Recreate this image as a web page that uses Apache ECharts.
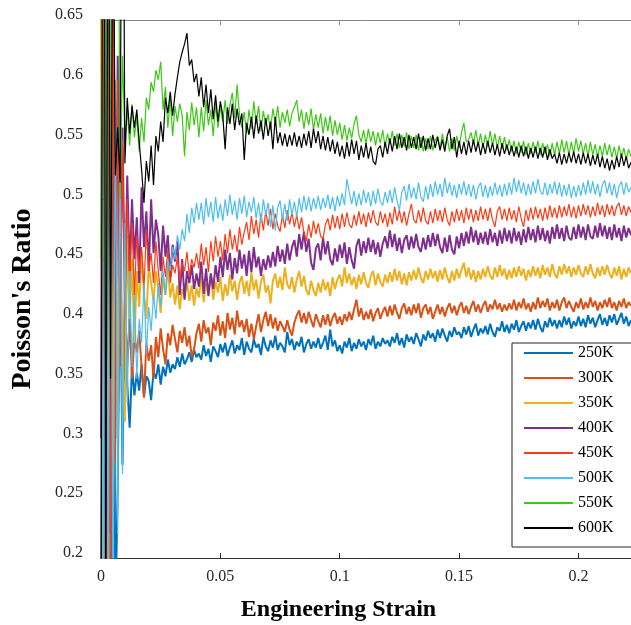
<!DOCTYPE html>
<html>
<head>
<meta charset="utf-8">
<script src="https://cdn.jsdelivr.net/npm/echarts@6/dist/echarts.min.js"></script>
<style>
  html, body { margin: 0; padding: 0; background: #fff; }
  #chart { width: 631px; height: 625px; }
</style>
</head>
<body>
<div id="chart"></div>
<script>
// Poisson's ratio vs. engineering strain at several temperatures.
// Samples are taken every 0.001 strain, starting at 0.
const strainStep = 0.001;

const temperatures = ['250K', '300K', '350K', '400K', '450K', '500K', '550K', '600K'];

const nu250 = [
  0.05, 0.95, 0.00, 0.80, 0.10, 0.70, 0.15, 0.259, 0.45, 0.278, 0.40,
  0.345, 0.309, 0.360, 0.336, 0.355, 0.340, 0.362, 0.335, 0.352, 0.348,
  0.332, 0.356, 0.350, 0.362, 0.345, 0.360, 0.352, 0.366, 0.355, 0.362,
  0.358, 0.368, 0.360, 0.371, 0.362, 0.366, 0.372, 0.364, 0.374, 0.368,
  0.371, 0.366, 0.378, 0.369, 0.375, 0.364, 0.377, 0.373, 0.368, 0.379,
  0.372, 0.380, 0.369, 0.376, 0.382, 0.371, 0.378, 0.374, 0.384, 0.370,
  0.381, 0.375, 0.372, 0.383, 0.376, 0.379, 0.370, 0.385, 0.377, 0.373,
  0.382, 0.376, 0.386, 0.374, 0.380, 0.377, 0.372, 0.389, 0.378, 0.383,
  0.374, 0.381, 0.377, 0.385, 0.372, 0.379, 0.383, 0.375, 0.381, 0.376,
  0.384, 0.375, 0.380, 0.386, 0.374, 0.391, 0.377, 0.382, 0.373, 0.378,
  0.371, 0.381, 0.376, 0.384, 0.373, 0.380, 0.375, 0.383, 0.377, 0.381,
  0.374, 0.383, 0.378, 0.386, 0.375, 0.381, 0.377, 0.384, 0.379, 0.382,
  0.377, 0.385, 0.380, 0.388, 0.378, 0.384, 0.376, 0.387, 0.381, 0.385,
  0.379, 0.388, 0.383, 0.377, 0.387, 0.382, 0.390, 0.384, 0.388, 0.381,
  0.391, 0.384, 0.392, 0.386, 0.381, 0.390, 0.385, 0.393, 0.387, 0.389,
  0.384, 0.393, 0.387, 0.394, 0.385, 0.391, 0.396, 0.386, 0.392, 0.388,
  0.394, 0.387, 0.396, 0.389, 0.385, 0.393, 0.390, 0.398, 0.389, 0.395,
  0.388, 0.396, 0.391, 0.399, 0.389, 0.394, 0.398, 0.390, 0.397, 0.392,
  0.399, 0.391, 0.400, 0.393, 0.389, 0.398, 0.393, 0.401, 0.394, 0.399,
  0.392, 0.399, 0.393, 0.402, 0.395, 0.401, 0.392, 0.398, 0.394, 0.402,
  0.394, 0.400, 0.393, 0.403, 0.396, 0.401, 0.393, 0.399, 0.404, 0.395,
  0.401, 0.394, 0.403, 0.397, 0.404, 0.395, 0.400, 0.405, 0.396, 0.402, 0.394, 0.399
];

const nu300 = [
  0.90, 0.10, 0.75, 0.05, 0.60, 0.20, 0.55, 0.30, 0.48, 0.33, 0.42,
  0.360, 0.400, 0.350, 0.385, 0.372, 0.390, 0.360, 0.334, 0.380, 0.365,
  0.378, 0.350, 0.385, 0.368, 0.392, 0.375, 0.362, 0.388, 0.378, 0.395,
  0.383, 0.372, 0.390, 0.380, 0.393, 0.377, 0.386, 0.368, 0.375, 0.388,
  0.396, 0.381, 0.399, 0.388, 0.393, 0.378, 0.397, 0.390, 0.403, 0.386,
  0.398, 0.384, 0.405, 0.391, 0.401, 0.387, 0.407, 0.393, 0.399, 0.389,
  0.400, 0.385, 0.396, 0.383, 0.394, 0.404, 0.389, 0.399, 0.406, 0.394,
  0.404, 0.392, 0.401, 0.390, 0.398, 0.394, 0.389, 0.399, 0.391, 0.386,
  0.397, 0.403, 0.407, 0.397, 0.405, 0.396, 0.406, 0.399, 0.393, 0.404,
  0.398, 0.393, 0.403, 0.395, 0.404, 0.394, 0.401, 0.405, 0.396, 0.402,
  0.395, 0.404, 0.398, 0.406, 0.399, 0.408, 0.416, 0.402, 0.409, 0.399,
  0.406, 0.400, 0.408, 0.398, 0.405, 0.409, 0.400, 0.406, 0.410, 0.402,
  0.411, 0.403, 0.412, 0.405, 0.400, 0.409, 0.413, 0.404, 0.410, 0.403,
  0.412, 0.405, 0.413, 0.401, 0.409, 0.412, 0.404, 0.410, 0.400, 0.406,
  0.412, 0.404, 0.410, 0.402, 0.409, 0.413, 0.405, 0.411, 0.403, 0.410,
  0.414, 0.405, 0.411, 0.404, 0.410, 0.415, 0.406, 0.412, 0.405, 0.411,
  0.415, 0.406, 0.412, 0.408, 0.416, 0.408, 0.413, 0.406, 0.412, 0.407,
  0.413, 0.408, 0.416, 0.407, 0.414, 0.409, 0.417, 0.408, 0.413, 0.406,
  0.414, 0.408, 0.418, 0.409, 0.415, 0.410, 0.417, 0.407, 0.414, 0.409,
  0.416, 0.407, 0.414, 0.418, 0.409, 0.415, 0.410, 0.406, 0.414, 0.409,
  0.417, 0.408, 0.414, 0.409, 0.418, 0.410, 0.415, 0.407, 0.414, 0.409,
  0.416, 0.410, 0.418, 0.409, 0.414, 0.407, 0.415, 0.410, 0.417, 0.409, 0.414, 0.411
];

const nu350 = [
  0.70, 0.02, 0.85, 0.12, 0.66, 0.25, 0.58, 0.30, 0.52, 0.36, 0.314,
  0.470, 0.400, 0.450, 0.380, 0.440, 0.410, 0.455, 0.420, 0.400, 0.445,
  0.430, 0.415, 0.440, 0.425, 0.405, 0.435, 0.420, 0.443, 0.418, 0.430,
  0.412, 0.428, 0.408, 0.425, 0.418, 0.432, 0.415, 0.428, 0.411, 0.426,
  0.418, 0.436, 0.414, 0.430, 0.420, 0.438, 0.416, 0.431, 0.422, 0.435,
  0.415, 0.429, 0.419, 0.437, 0.423, 0.432, 0.416, 0.430, 0.436, 0.421,
  0.432, 0.419, 0.439, 0.424, 0.433, 0.417, 0.431, 0.437, 0.422, 0.428,
  0.413, 0.432, 0.438, 0.426, 0.435, 0.424, 0.443, 0.429, 0.425, 0.435,
  0.422, 0.433, 0.440, 0.427, 0.436, 0.424, 0.420, 0.432, 0.424, 0.419,
  0.430, 0.422, 0.433, 0.424, 0.431, 0.419, 0.435, 0.425, 0.433, 0.437,
  0.427, 0.443, 0.430, 0.438, 0.428, 0.435, 0.425, 0.437, 0.429, 0.439,
  0.430, 0.426, 0.436, 0.440, 0.428, 0.438, 0.431, 0.427, 0.437, 0.430,
  0.439, 0.431, 0.442, 0.432, 0.440, 0.429, 0.438, 0.428, 0.439, 0.432,
  0.441, 0.433, 0.443, 0.434, 0.430, 0.440, 0.433, 0.442, 0.434, 0.440,
  0.431, 0.441, 0.433, 0.443, 0.435, 0.430, 0.440, 0.432, 0.442, 0.434,
  0.441, 0.447, 0.435, 0.443, 0.433, 0.441, 0.431, 0.440, 0.433, 0.442,
  0.435, 0.444, 0.436, 0.433, 0.443, 0.435, 0.445, 0.436, 0.442, 0.433,
  0.441, 0.434, 0.443, 0.435, 0.444, 0.436, 0.442, 0.432, 0.441, 0.435,
  0.444, 0.436, 0.443, 0.434, 0.445, 0.437, 0.443, 0.435, 0.446, 0.438,
  0.434, 0.444, 0.437, 0.446, 0.438, 0.444, 0.435, 0.443, 0.437, 0.445,
  0.438, 0.435, 0.444, 0.437, 0.446, 0.438, 0.434, 0.443, 0.436, 0.444,
  0.437, 0.445, 0.438, 0.434, 0.443, 0.436, 0.444, 0.433, 0.442, 0.435, 0.443, 0.438
];

const nu400 = [
  0.30, 0.95, 0.05, 0.85, 0.22, 0.78, 0.35, 0.62, 0.40, 0.56, 0.42,
  0.520, 0.440, 0.500, 0.450, 0.485, 0.430, 0.510, 0.460, 0.490, 0.440,
  0.500, 0.455, 0.483, 0.470, 0.440, 0.478, 0.452, 0.470, 0.435, 0.462,
  0.448, 0.465, 0.420, 0.450, 0.416, 0.440, 0.430, 0.445, 0.425, 0.438,
  0.427, 0.448, 0.421, 0.442, 0.419, 0.438, 0.425, 0.445, 0.431, 0.452,
  0.435, 0.458, 0.441, 0.455, 0.433, 0.451, 0.438, 0.458, 0.442, 0.454,
  0.436, 0.457, 0.439, 0.460, 0.443, 0.452, 0.436, 0.450, 0.441, 0.453,
  0.443, 0.456, 0.444, 0.461, 0.448, 0.458, 0.446, 0.463, 0.449, 0.460,
  0.466, 0.452, 0.471, 0.458, 0.473, 0.456, 0.467, 0.447, 0.441, 0.459,
  0.463, 0.449, 0.468, 0.454, 0.465, 0.450, 0.445, 0.459, 0.448, 0.462,
  0.451, 0.464, 0.446, 0.460, 0.449, 0.442, 0.461, 0.467, 0.453, 0.465,
  0.455, 0.468, 0.456, 0.466, 0.454, 0.464, 0.452, 0.463, 0.469, 0.459,
  0.474, 0.460, 0.471, 0.457, 0.468, 0.455, 0.466, 0.470, 0.458, 0.469,
  0.459, 0.471, 0.460, 0.456, 0.468, 0.458, 0.470, 0.460, 0.472, 0.461,
  0.471, 0.460, 0.455, 0.468, 0.456, 0.470, 0.458, 0.454, 0.469, 0.459,
  0.472, 0.461, 0.473, 0.463, 0.477, 0.464, 0.474, 0.462, 0.472, 0.463,
  0.473, 0.462, 0.475, 0.464, 0.472, 0.461, 0.474, 0.463, 0.476, 0.465,
  0.474, 0.463, 0.476, 0.465, 0.473, 0.462, 0.475, 0.464, 0.477, 0.466,
  0.475, 0.464, 0.478, 0.466, 0.476, 0.465, 0.474, 0.463, 0.477, 0.467,
  0.479, 0.467, 0.476, 0.465, 0.478, 0.468, 0.466, 0.477, 0.467, 0.479,
  0.468, 0.477, 0.466, 0.479, 0.469, 0.467, 0.478, 0.468, 0.480, 0.469,
  0.478, 0.467, 0.477, 0.466, 0.479, 0.468, 0.476, 0.465, 0.478, 0.468, 0.476, 0.470
];

const nu450 = [
  0.05, 0.90, 0.10, 0.75, 0.15, 0.70, 0.28, 0.60, 0.36, 0.55, 0.40,
  0.500, 0.430, 0.480, 0.420, 0.470, 0.440, 0.460, 0.425, 0.475, 0.440,
  0.455, 0.430, 0.465, 0.440, 0.420, 0.452, 0.435, 0.458, 0.430, 0.445,
  0.438, 0.452, 0.432, 0.447, 0.440, 0.456, 0.436, 0.450, 0.443, 0.455,
  0.442, 0.463, 0.445, 0.460, 0.439, 0.465, 0.448, 0.469, 0.452, 0.465,
  0.449, 0.471, 0.455, 0.475, 0.458, 0.470, 0.456, 0.477, 0.462, 0.473,
  0.481, 0.466, 0.486, 0.471, 0.483, 0.468, 0.488, 0.474, 0.490, 0.478,
  0.492, 0.475, 0.488, 0.478, 0.473, 0.487, 0.476, 0.491, 0.479, 0.489,
  0.477, 0.487, 0.475, 0.485, 0.472, 0.465, 0.479, 0.468, 0.482, 0.471,
  0.480, 0.469, 0.467, 0.479, 0.484, 0.474, 0.487, 0.476, 0.486, 0.475,
  0.488, 0.477, 0.489, 0.479, 0.476, 0.487, 0.478, 0.490, 0.479, 0.488,
  0.477, 0.489, 0.480, 0.491, 0.481, 0.478, 0.490, 0.480, 0.488, 0.477,
  0.489, 0.479, 0.494, 0.482, 0.491, 0.480, 0.490, 0.478, 0.488, 0.496,
  0.483, 0.480, 0.491, 0.481, 0.493, 0.482, 0.479, 0.490, 0.480, 0.492,
  0.482, 0.491, 0.481, 0.493, 0.483, 0.478, 0.490, 0.481, 0.492, 0.482,
  0.491, 0.480, 0.493, 0.483, 0.492, 0.481, 0.491, 0.482, 0.494, 0.483,
  0.492, 0.482, 0.493, 0.483, 0.477, 0.490, 0.494, 0.483, 0.492, 0.482,
  0.493, 0.483, 0.491, 0.481, 0.494, 0.484, 0.477, 0.491, 0.482, 0.493,
  0.483, 0.494, 0.484, 0.492, 0.482, 0.493, 0.483, 0.495, 0.485, 0.493,
  0.484, 0.495, 0.485, 0.494, 0.486, 0.496, 0.485, 0.494, 0.484, 0.495,
  0.486, 0.496, 0.487, 0.495, 0.485, 0.494, 0.486, 0.497, 0.487, 0.495,
  0.485, 0.496, 0.487, 0.495, 0.486, 0.494, 0.497, 0.487, 0.495, 0.486, 0.494, 0.489
];

const nu500 = [
  0.95, 0.05, 0.80, 0.12, 0.72, 0.10, 0.60, 0.22, 0.55, 0.27, 0.48,
  0.330, 0.440, 0.360, 0.420, 0.350, 0.400, 0.380, 0.430, 0.370, 0.410,
  0.390, 0.420, 0.400, 0.430, 0.410, 0.440, 0.420, 0.450, 0.440, 0.460,
  0.450, 0.470, 0.458, 0.475, 0.465, 0.488, 0.472, 0.493, 0.480, 0.497,
  0.483, 0.497, 0.479, 0.501, 0.485, 0.498, 0.481, 0.502, 0.484, 0.496,
  0.482, 0.500, 0.486, 0.504, 0.487, 0.499, 0.483, 0.501, 0.488, 0.503,
  0.485, 0.498, 0.489, 0.502, 0.484, 0.497, 0.480, 0.500, 0.487, 0.497,
  0.477, 0.495, 0.474, 0.493, 0.499, 0.483, 0.496, 0.482, 0.500, 0.487,
  0.498, 0.485, 0.501, 0.489, 0.503, 0.491, 0.502, 0.490, 0.501, 0.492,
  0.503, 0.491, 0.501, 0.493, 0.504, 0.492, 0.502, 0.490, 0.503, 0.494,
  0.505, 0.495, 0.517, 0.506, 0.496, 0.507, 0.494, 0.505, 0.495, 0.508,
  0.497, 0.506, 0.494, 0.507, 0.496, 0.509, 0.498, 0.495, 0.506, 0.497,
  0.508, 0.497, 0.510, 0.499, 0.491, 0.506, 0.511, 0.499, 0.513, 0.501,
  0.510, 0.500, 0.514, 0.502, 0.498, 0.511, 0.500, 0.513, 0.502, 0.515,
  0.504, 0.513, 0.502, 0.518, 0.505, 0.514, 0.503, 0.512, 0.501, 0.513,
  0.504, 0.515, 0.503, 0.513, 0.502, 0.512, 0.500, 0.510, 0.514, 0.502,
  0.512, 0.501, 0.511, 0.503, 0.514, 0.504, 0.512, 0.502, 0.513, 0.503,
  0.514, 0.504, 0.518, 0.506, 0.516, 0.505, 0.514, 0.503, 0.513, 0.504,
  0.515, 0.505, 0.517, 0.507, 0.504, 0.514, 0.503, 0.513, 0.505, 0.515,
  0.504, 0.514, 0.502, 0.512, 0.503, 0.513, 0.501, 0.511, 0.502, 0.512,
  0.503, 0.514, 0.504, 0.516, 0.505, 0.515, 0.504, 0.513, 0.502, 0.512,
  0.516, 0.505, 0.514, 0.503, 0.513, 0.501, 0.511, 0.515, 0.504, 0.514, 0.506, 0.510
];

const nu550 = [
  0.45, 1.10, 0.30, 0.95, 0.40, 1.00, 0.80, 0.90, 0.50, 0.62, 0.55,
  0.575, 0.545, 0.580, 0.552, 0.570, 0.540, 0.568, 0.548, 0.585, 0.575,
  0.598, 0.590, 0.608, 0.600, 0.615, 0.575, 0.594, 0.560, 0.585, 0.553,
  0.578, 0.565, 0.580, 0.570, 0.536, 0.573, 0.558, 0.581, 0.562, 0.577,
  0.552, 0.577, 0.557, 0.583, 0.562, 0.575, 0.553, 0.581, 0.560, 0.578,
  0.565, 0.583, 0.563, 0.579, 0.589, 0.568, 0.596, 0.571, 0.560, 0.573,
  0.555, 0.575, 0.559, 0.582, 0.563, 0.578, 0.557, 0.574, 0.562, 0.571,
  0.558, 0.576, 0.563, 0.578, 0.560, 0.573, 0.564, 0.575, 0.561, 0.572,
  0.577, 0.583, 0.565, 0.575, 0.559, 0.573, 0.562, 0.576, 0.558, 0.571,
  0.560, 0.572, 0.555, 0.569, 0.557, 0.570, 0.553, 0.566, 0.554, 0.564,
  0.550, 0.562, 0.549, 0.560, 0.551, 0.563, 0.570, 0.554, 0.548, 0.558,
  0.546, 0.559, 0.548, 0.557, 0.545, 0.556, 0.547, 0.558, 0.544, 0.555,
  0.546, 0.557, 0.545, 0.555, 0.543, 0.554, 0.544, 0.556, 0.542, 0.553,
  0.543, 0.554, 0.541, 0.552, 0.540, 0.551, 0.542, 0.553, 0.541, 0.550,
  0.553, 0.542, 0.555, 0.543, 0.552, 0.540, 0.551, 0.541, 0.553, 0.543,
  0.556, 0.564, 0.548, 0.550, 0.556, 0.546, 0.558, 0.545, 0.555, 0.543,
  0.554, 0.544, 0.557, 0.545, 0.555, 0.543, 0.553, 0.542, 0.552, 0.541,
  0.550, 0.540, 0.549, 0.538, 0.548, 0.539, 0.549, 0.537, 0.547, 0.538,
  0.548, 0.539, 0.549, 0.537, 0.547, 0.538, 0.546, 0.536, 0.547, 0.537,
  0.548, 0.538, 0.550, 0.539, 0.549, 0.537, 0.548, 0.538, 0.551, 0.540,
  0.549, 0.538, 0.547, 0.536, 0.548, 0.537, 0.546, 0.535, 0.545, 0.536,
  0.547, 0.537, 0.546, 0.535, 0.544, 0.534, 0.545, 0.535, 0.543, 0.533, 0.542, 0.536
];

const nu600 = [
  0.10, 1.20, 0.15, 0.90, 0.35, 0.80, 0.52, 0.56, 0.514, 0.95, 0.53,
  0.585, 0.555, 0.578, 0.560, 0.575, 0.548, 0.525, 0.497, 0.532, 0.515,
  0.545, 0.512, 0.553, 0.540, 0.565, 0.548, 0.585, 0.572, 0.590, 0.570,
  0.588, 0.602, 0.615, 0.623, 0.630, 0.639, 0.612, 0.617, 0.598, 0.605,
  0.586, 0.602, 0.577, 0.596, 0.572, 0.592, 0.567, 0.587, 0.565, 0.582,
  0.570, 0.542, 0.577, 0.563, 0.580, 0.558, 0.576, 0.562, 0.572, 0.533,
  0.564, 0.554, 0.569, 0.551, 0.570, 0.555, 0.566, 0.550, 0.568, 0.553,
  0.565, 0.542, 0.569, 0.547, 0.556, 0.545, 0.555, 0.544, 0.554, 0.545,
  0.556, 0.544, 0.553, 0.543, 0.555, 0.545, 0.557, 0.543, 0.559, 0.547,
  0.557, 0.542, 0.553, 0.541, 0.552, 0.540, 0.550, 0.538, 0.548, 0.536,
  0.545, 0.534, 0.548, 0.536, 0.550, 0.538, 0.549, 0.533, 0.545, 0.535,
  0.547, 0.534, 0.544, 0.532, 0.529, 0.542, 0.545, 0.535, 0.548, 0.538,
  0.551, 0.540, 0.553, 0.542, 0.555, 0.543, 0.552, 0.541, 0.554, 0.543,
  0.552, 0.542, 0.555, 0.543, 0.553, 0.541, 0.551, 0.542, 0.554, 0.543,
  0.552, 0.541, 0.550, 0.540, 0.553, 0.559, 0.542, 0.552, 0.535, 0.549,
  0.538, 0.548, 0.537, 0.549, 0.539, 0.550, 0.540, 0.548, 0.537, 0.547,
  0.538, 0.549, 0.539, 0.547, 0.537, 0.546, 0.536, 0.547, 0.538, 0.546,
  0.537, 0.545, 0.536, 0.544, 0.535, 0.545, 0.536, 0.544, 0.534, 0.543,
  0.535, 0.544, 0.534, 0.543, 0.535, 0.544, 0.533, 0.542, 0.534, 0.538,
  0.530, 0.539, 0.529, 0.538, 0.530, 0.539, 0.531, 0.540, 0.530, 0.538,
  0.529, 0.539, 0.530, 0.538, 0.528, 0.537, 0.529, 0.538, 0.527, 0.536,
  0.526, 0.534, 0.524, 0.533, 0.525, 0.536, 0.527, 0.538, 0.528, 0.536, 0.526, 0.531
];

const ratioSeries = [nu250, nu300, nu350, nu400, nu450, nu500, nu550, nu600];

// Line appearance per temperature
const lineColors = ['#0072BD', '#D95319', '#EDB120', '#7E2F8E', '#FF3A12', '#4DBEEE', '#3DC814', '#000000'];
const lineWidths = [2, 2, 2, 2, 1.2, 1.2, 1.2, 1.2];

const serif = '"Liberation Serif", "Times New Roman", serif';

function toPairs(values) {
  return values.map((v, i) => [+(i * strainStep).toFixed(3), v]);
}

const chart = echarts.init(document.getElementById('chart'), null, { renderer: 'canvas' });

const axisColor = '#262626';

chart.setOption({
  animation: false,
  backgroundColor: '#ffffff',
  textStyle: { fontFamily: serif },
  grid: { left: 101, top: 20, width: 532, height: 538, containLabel: false },
  xAxis: [
    {
      type: 'value', min: 0, max: 0.222, interval: 0.05, position: 'bottom',
      axisLine: { show: true, onZero: false, lineStyle: { color: '#333333', width: 1 } },
      axisTick: { show: true, inside: true, length: 5, lineStyle: { color: axisColor } },
      axisLabel: { show: true, showMaxLabel: false, margin: 11, color: axisColor, fontSize: 16, fontFamily: serif },
      splitLine: { show: false }
    },
    {
      type: 'value', min: 0, max: 0.222, interval: 0.05, position: 'top',
      axisLine: { show: true, onZero: false, lineStyle: { color: '#8a8a8a', width: 1 } },
      axisTick: { show: true, inside: true, length: 5, lineStyle: { color: '#8a8a8a' } },
      axisLabel: { show: false },
      splitLine: { show: false }
    }
  ],
  yAxis: {
    type: 'value', min: 0.2, max: 0.65, interval: 0.05,
    axisLine: { show: true, onZero: false, lineStyle: { color: '#333333', width: 1 } },
    axisTick: { show: true, inside: true, length: 5, lineStyle: { color: axisColor } },
    axisLabel: {
      margin: 18, color: axisColor, fontSize: 16, fontFamily: serif,
      verticalAlign: 'bottom', lineHeight: 10
    },
    splitLine: { show: false }
  },
  legend: {
    orient: 'vertical',
    left: 512,
    top: 343,
    padding: [2, 90, 11, 11],
    itemWidth: 49,
    itemHeight: 14,
    itemGap: 9,
    backgroundColor: '#ffffff',
    borderColor: axisColor,
    borderWidth: 1,
    borderRadius: 0,
    itemStyle: { opacity: 0 },
    textStyle: { color: '#000000', fontSize: 16, fontFamily: serif, lineHeight: 16 },
    data: temperatures
  },
  series: temperatures.map((name, k) => ({
    name: name,
    type: 'line',
    data: toPairs(ratioSeries[k]),
    symbol: 'none',
    showSymbol: false,
    clip: true,
    color: lineColors[k],
    lineStyle: { color: lineColors[k], width: lineWidths[k] },
    emphasis: { disabled: true }
  })),
  graphic: [
    {
      type: 'text',
      x: 338.5, y: 610,
      style: {
        text: 'Engineering Strain',
        font: 'bold 24px ' + serif,
        fill: '#000000',
        align: 'center', verticalAlign: 'middle',
        textAlign: 'center', textVerticalAlign: 'middle'
      }
    },
    {
      type: 'text',
      x: 23, y: 299,
      rotation: Math.PI / 2,
      style: {
        text: "Poisson's Ratio",
        font: 'bold 28px ' + serif,
        fill: '#000000',
        align: 'center', verticalAlign: 'middle',
        textAlign: 'center', textVerticalAlign: 'middle'
      }
    }
  ]
});
</script>
</body>
</html>
